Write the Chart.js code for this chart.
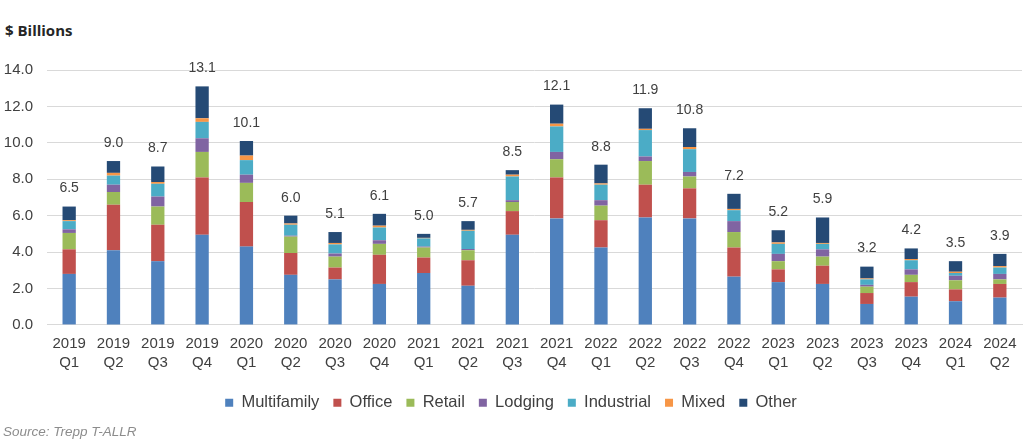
<!DOCTYPE html>
<html>
<head>
<meta charset="utf-8">
<script src="https://cdn.jsdelivr.net/npm/chart.js@4.4.1/dist/chart.umd.min.js"></script>
<style>
  html, body { margin: 0; padding: 0; background: #ffffff; }
  #wrap { position: relative; width: 1024px; height: 444px; overflow: hidden; }
  #title { position: absolute; left: 5px; top: 20px; font-family: "Open Sans", "Liberation Sans", sans-serif; font-weight: 700; font-size: 15px; color: #262626; line-height: 20px; }
  #source { position: absolute; left: 3px; top: 424px; font-family: "Liberation Sans", Arial, sans-serif; font-style: italic; font-size: 13.5px; color: #8c8c8c; line-height: 16px; }
  #cv { position: absolute; left: 0; top: 0; }
</style>
</head>
<body>
<div id="wrap">
  <div id="title">$ Billions</div>
  <canvas id="cv" width="1024" height="444"></canvas>
  <div id="source">Source: Trepp T-ALLR</div>
</div>
<script>
const categories = [
  ['2019','Q1'],['2019','Q2'],['2019','Q3'],['2019','Q4'],
  ['2020','Q1'],['2020','Q2'],['2020','Q3'],['2020','Q4'],
  ['2021','Q1'],['2021','Q2'],['2021','Q3'],['2021','Q4'],
  ['2022','Q1'],['2022','Q2'],['2022','Q3'],['2022','Q4'],
  ['2023','Q1'],['2023','Q2'],['2023','Q3'],['2023','Q4'],
  ['2024','Q1'],['2024','Q2']
];
const multifamily = [2.8, 4.1, 3.5, 4.95, 4.3, 2.75, 2.5, 2.25, 2.85, 2.15, 4.95, 5.85, 4.25, 5.9, 5.85, 2.65, 2.35, 2.25, 1.15, 1.55, 1.3, 1.5];
const office      = [1.35, 2.5, 2.0, 3.15, 2.45, 1.2, 0.65, 1.6, 0.85, 1.4, 1.3, 2.25, 1.5, 1.8, 1.65, 1.6, 0.7, 1.0, 0.6, 0.8, 0.65, 0.75];
const retail      = [0.9, 0.7, 1.0, 1.4, 1.05, 0.9, 0.6, 0.6, 0.55, 0.55, 0.5, 1.0, 0.8, 1.3, 0.65, 0.85, 0.45, 0.5, 0.35, 0.4, 0.5, 0.25];
const lodging     = [0.2, 0.4, 0.55, 0.75, 0.45, 0.05, 0.17, 0.2, 0.05, 0.07, 0.1, 0.4, 0.3, 0.25, 0.25, 0.6, 0.4, 0.4, 0.1, 0.3, 0.25, 0.3];
const industrial  = [0.45, 0.5, 0.7, 0.9, 0.8, 0.6, 0.5, 0.7, 0.45, 1.0, 1.3, 1.4, 0.85, 1.45, 1.25, 0.6, 0.55, 0.3, 0.3, 0.5, 0.15, 0.35];
const mixed       = [0.05, 0.15, 0.1, 0.2, 0.25, 0.07, 0.08, 0.1, 0.03, 0.05, 0.1, 0.15, 0.07, 0.07, 0.12, 0.07, 0.08, 0.05, 0.05, 0.07, 0.07, 0.08];
const other       = [0.75, 0.65, 0.85, 1.75, 0.8, 0.43, 0.6, 0.65, 0.22, 0.48, 0.25, 1.05, 1.03, 1.13, 1.03, 0.83, 0.67, 1.4, 0.65, 0.58, 0.58, 0.67];
const totals      = [6.5, 9.0, 8.7, 13.1, 10.1, 6.0, 5.1, 6.1, 5.0, 5.7, 8.5, 12.1, 8.8, 11.9, 10.8, 7.2, 5.2, 5.9, 3.2, 4.2, 3.5, 3.9];
const yTicks      = [0, 2, 4, 6, 8, 10, 12, 14];

const seriesNames  = ['Multifamily','Office','Retail','Lodging','Industrial','Mixed','Other'];
const seriesData   = [multifamily, office, retail, lodging, industrial, mixed, other];
const seriesColors = ['#4F81BD','#C0504D','#9BBB59','#8064A2','#4BACC6','#F79646','#254A75'];

const FONT = '"Liberation Sans", Arial, sans-serif';

const totalLabels = {
  id: 'totalLabels',
  afterDatasetsDraw(chart) {
    const ctx = chart.ctx;
    const xs = chart.scales.x, ys = chart.scales.y;
    ctx.save();
    ctx.font = '14px ' + FONT;
    ctx.fillStyle = '#404040';
    ctx.textAlign = 'center';
    ctx.textBaseline = 'bottom';
    totals.forEach((t, i) => {
      ctx.fillText(t.toFixed(1), xs.getPixelForValue(i), ys.getPixelForValue(t) - 11);
    });
    ctx.restore();
  }
};

new Chart(document.getElementById('cv'), {
  type: 'bar',
  data: {
    labels: categories,
    datasets: seriesNames.map((n, k) => ({
      label: n,
      data: seriesData[k],
      backgroundColor: seriesColors[k],
      borderWidth: 0,
      categoryPercentage: 1.0,
      barPercentage: 0.30
    }))
  },
  options: {
    responsive: false,
    animation: false,
    devicePixelRatio: 1,
    layout: { padding: { top: 70, left: 0, right: 2, bottom: 23 } },
    plugins: {
      legend: {
        position: 'bottom',
        labels: {
          font: { family: FONT, size: 16.5 },
          color: '#404040',
          boxWidth: 8,
          boxHeight: 8,
          padding: 14
        }
      },
      tooltip: { enabled: false },
      title: { display: false }
    },
    scales: {
      x: {
        stacked: true,
        grid: { display: false },
        border: { display: true, color: '#d9d9d9', width: 1 },
        afterFit(scale) { scale.height += 7.5; },
        ticks: { font: { family: FONT, size: 15, lineHeight: 1.27 }, color: '#404040', padding: 1, maxRotation: 0, autoSkip: false }
      },
      y: {
        stacked: true,
        min: 0,
        max: 14,
        afterBuildTicks(scale) { scale.ticks = yTicks.map(v => ({ value: v })); },
        afterFit(scale) { scale.width = 47; },
        grid: { color: '#d9d9d9', drawTicks: false, lineWidth: 1 },
        border: { display: false },
        ticks: {
          font: { family: FONT, size: 15 },
          color: '#404040',
          padding: 14,
          callback: v => Number(v).toFixed(1)
        }
      }
    }
  },
  plugins: [totalLabels]
});
</script>
</body>
</html>
